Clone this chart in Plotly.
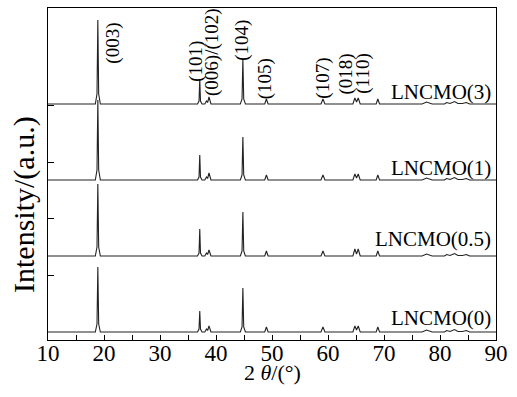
import plotly.graph_objects as go

# 2theta sample points (deg), shared by all patterns
two_theta = [10.0,
             18.45, 18.75, 18.9, 19.05, 19.35,
             36.7, 36.97, 37.1, 37.23, 37.5,
             38.0, 38.3, 38.5, 38.75, 39.1,
             44.35, 44.65, 44.8, 44.95, 45.25,
             48.7, 49.0, 49.3,
             58.75, 59.1, 59.45,
             64.45, 64.8, 65.1, 65.4, 65.75,
             68.6, 68.9, 69.2,
             76.8, 77.6, 78.6,
             80.8, 81.2, 81.8, 82.6, 83.2, 84.0, 84.7, 85.3,
             90.0]

# relative intensities (a.u.)
int_0 = [0, 0, 8, 65, 8, 0, 0, 3, 21, 3, 0, 0, 3, 1.5, 6, 0, 0, 5, 44, 5, 0,
         0, 5, 0, 0, 5, 0, 0, 6, 2, 6, 0, 0, 5, 0, 0, 2, 0,
         0, 1.5, 0.5, 2.5, 0.5, 0.5, 1.5, 0, 0]
int_05 = [0, 0, 9, 72, 9, 0, 0, 3, 27, 3, 0, 0, 3, 1.5, 6, 0, 0, 5, 44, 5, 0,
          0, 5, 0, 0, 5, 0, 0, 7, 2, 7, 0, 0, 5, 0, 0, 2, 0,
          0, 1.5, 0.5, 2.5, 0.5, 0.5, 1.5, 0, 0]
int_1 = [0, 0, 10, 80, 10, 0, 0, 3, 25, 3, 0, 0, 3, 1.5, 7, 0, 0, 5, 43, 5, 0,
         0, 5, 0, 0, 5, 0, 0, 6, 2, 6, 0, 0, 5, 0, 0, 2, 0,
         0, 1.5, 0.5, 2.5, 0.5, 0.5, 1.5, 0, 0]
int_3 = [0, 0, 10, 84, 10, 0, 0, 3, 25, 3, 0, 0, 3, 1.5, 7, 0, 0, 5, 45, 5, 0,
         0, 5, 0, 0, 5, 0, 0, 6, 2, 6, 0, 0, 5, 0, 0, 2, 0,
         0, 1.5, 0.5, 2.5, 0.5, 0.5, 1.5, 0, 0]

sample_names = ["LNCMO(0)", "LNCMO(0.5)", "LNCMO(1)", "LNCMO(3)"]
patterns = [int_0, int_05, int_1, int_3]

hkl_labels = ["(003)", "(101)", "(006)/(102)", "(104)", "(105)", "(107)", "(018)", "(110)"]
x_tick_vals = [10, 20, 30, 40, 50, 60, 70, 80, 90]

# layout (vertical stacking offsets and label placement)
OFFSETS = [8, 84, 160, 236]
HKL_POS = [(21.55, 297), (36.4, 279), (39.2, 287.5), (44.6, 300),
           (48.7, 261.5), (59.05, 262), (63.3, 266), (66.2, 266)]
NAME_Y = [22, 101, 172, 248]

FONT = "Liberation Serif"

fig = go.Figure()
for name, ys, off in zip(sample_names, patterns, OFFSETS):
    fig.add_trace(go.Scatter(x=two_theta, y=[v + off for v in ys], mode="lines",
                             name=name, line=dict(color="#222222", width=1.1),
                             showlegend=False))

annotations = []
for lab, (px, py) in zip(hkl_labels, HKL_POS):
    annotations.append(dict(x=px, y=py, xref="x", yref="y", text=lab, textangle=-90,
                            showarrow=False, font=dict(family=FONT, size=19, color="black"),
                            xanchor="center", yanchor="middle"))
for name, ny in zip(sample_names, NAME_Y):
    annotations.append(dict(x=89.5, y=ny, xref="x", yref="y", text=name, showarrow=False,
                            font=dict(family=FONT, size=21, color="black"),
                            xanchor="right", yanchor="middle"))
annotations.append(dict(x=0, y=135, xref="paper", yref="y", text="Intensity/(a.u.)",
                        textangle=-90, showarrow=False, xshift=-24,
                        font=dict(family=FONT, size=30, color="black"),
                        xanchor="center", yanchor="middle"))
annotations.append(dict(x=0.5, y=0, xref="paper", yref="paper", text="2 <i>θ</i>/(°)",
                        showarrow=False, yshift=-32,
                        font=dict(family=FONT, size=22, color="black"),
                        xanchor="center", yanchor="middle"))

fig.update_layout(
    width=517, height=397,
    margin=dict(l=48, r=21, t=8, b=57, autoexpand=False),
    paper_bgcolor="white", plot_bgcolor="white",
    annotations=annotations,
    font=dict(family=FONT, color="black"),
)
fig.update_xaxes(range=[10, 90], tickvals=x_tick_vals, ticktext=[str(v) for v in x_tick_vals],
                 ticks="inside", ticklen=5, tickcolor="black", showgrid=False, zeroline=False,
                 showline=True, linecolor="black", linewidth=1, mirror=True, automargin=False,
                 ticklabelstandoff=-8,
                 tickfont=dict(family=FONT, size=23, color="black"),
                 minor=dict(dtick=5, tick0=10, ticks="inside", ticklen=5, tickcolor="black"))
fig.update_yaxes(range=[0, 332], tickvals=[65, 122, 178, 235], showticklabels=False,
                 ticks="inside", ticklen=6, tickcolor="black", showgrid=False, zeroline=False,
                 showline=True, linecolor="black", linewidth=1, mirror=True, automargin=False)

fig.write_html("out.html", config={"displayModeBar": False},
               post_script="document.body.style.margin='0';document.body.style.overflow='hidden';")
